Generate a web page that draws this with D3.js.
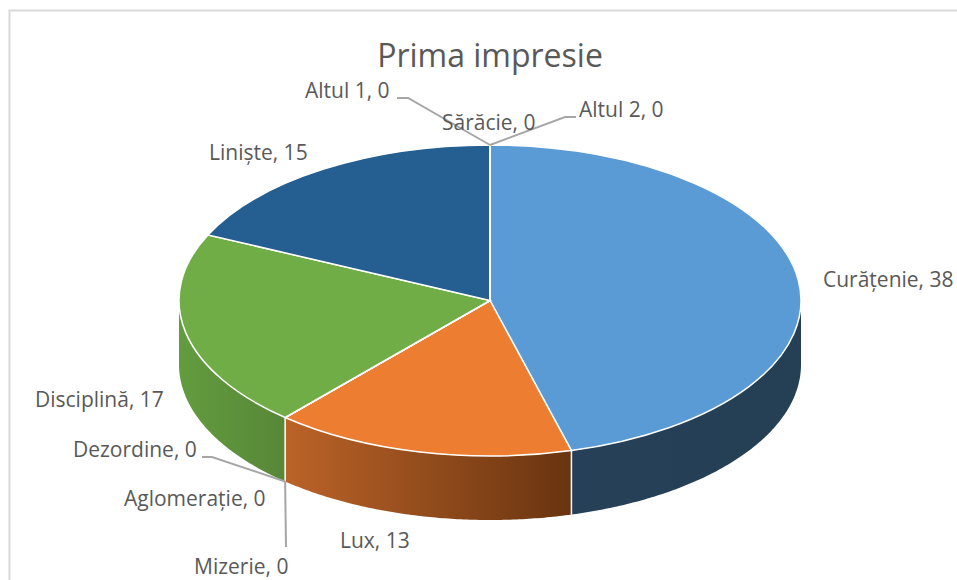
<!DOCTYPE html>
<html>
<head>
<meta charset="utf-8">
<script src="https://cdn.jsdelivr.net/npm/d3@7"></script>
<style>
  html, body { margin: 0; background: #fff; }
  svg { display: block; }
</style>
</head>
<body>
<svg></svg>
<script>
var categories = ['Curățenie', 'Lux', 'Aglomerație', 'Mizerie', 'Dezordine', 'Disciplină', 'Liniște', 'Sărăcie', 'Altul 1', 'Altul 2'];
var values = [38, 13, 0, 0, 0, 17, 15, 0, 0, 0];
var topColors = ['#5b9bd5', '#ed7d31', '#a5a5a5', '#ffc000', '#4472c4', '#70ad47', '#255e91', '#9e480e', '#636363', '#997300'];
var wallColors = [['#254058', '#254054'], ['#bb6328', '#693410'], null, null, null, ['#639c3f', '#578737'], null, null, null, null];

var svgWidth = 957, svgHeight = 580;
var cx = 490, cy = 300.5, rx = 311, ry = 155.5, depth = 64;

// label anchor points, in the same order as categories
var labelX = [823, 340, 124, 194, 73, 35, 209, 442, 305, 579];
var labelY = [287, 548, 506, 574, 457, 407, 160, 130, 98, 117];
// leader lines, only for the labels that have one
var leaders = {
    'Altul 1': { from: [397, 98], knee: [408, 98], wall: false },
    'Altul 2': { from: [576, 117], knee: [565, 117], wall: false },
    'Dezordine': { from: [202, 457], knee: [212, 457], wall: true },
    'Mizerie': { from: [286, 547], knee: [286, 547], wall: true }
};

var svg = d3.select('svg')
    .attr('width', svgWidth)
    .attr('height', svgHeight);

// chart area border
svg.append('path')
    .attr('d', 'M9.5,580V10.5H957')
    .attr('fill', 'none')
    .attr('stroke', '#d9d9d9')
    .attr('stroke-width', 2);

svg.append('text')
    .attr('x', 490)
    .attr('y', 67)
    .attr('text-anchor', 'middle')
    .attr('fill', '#595959')
    .attr('font-family', 'Open Sans')
    .attr('font-size', '32px')
    .text('Prima impresie');

var slices = d3.pie().sort(null).value(function(d) { return d; })(values);

function rimX(a) { return cx + rx * Math.sin(a); }
function rimY(a) { return cy - ry * Math.cos(a); }

var defs = svg.append('defs');
var wallLayer = svg.append('g');

slices.forEach(function(s, i) {
    var a0 = Math.max(s.startAngle, Math.PI / 2), a1 = Math.min(s.endAngle, Math.PI * 1.5);
    if (s.value === 0 || a1 <= a0 || !wallColors[i]) return;

    var grad = defs.append('linearGradient')
        .attr('id', 'wall' + i)
        .attr('gradientUnits', 'userSpaceOnUse')
        .attr('x1', d3.min([rimX(a0), rimX(a1)]))
        .attr('x2', d3.max([rimX(a0), rimX(a1)]))
        .attr('y1', 0)
        .attr('y2', 0);
    // gradients run left to right on the page
    grad.append('stop').attr('offset', 0).attr('stop-color', wallColors[i][0]);
    grad.append('stop').attr('offset', 1).attr('stop-color', wallColors[i][1]);

    var angles = d3.range(a0, a1, 0.01).concat([a1]);
    var top = angles.map(function(a) { return [rimX(a), rimY(a)]; });
    var bottom = angles.slice().reverse().map(function(a) { return [rimX(a), rimY(a) + depth]; });

    wallLayer.append('path')
        .attr('d', d3.line()(top.concat(bottom)) + 'Z')
        .attr('fill', 'url(#wall' + i + ')');
});

// white edges between the wall pieces
slices.forEach(function(s) {
    if (s.value === 0 || s.endAngle <= Math.PI / 2 || s.endAngle >= Math.PI * 1.5) return;
    wallLayer.append('line')
        .attr('x1', rimX(s.endAngle))
        .attr('x2', rimX(s.endAngle))
        .attr('y1', rimY(s.endAngle))
        .attr('y2', rimY(s.endAngle) + depth)
        .attr('stroke', '#fff')
        .attr('stroke-width', 1.5);
});

var arc = d3.arc().innerRadius(0).outerRadius(rx);

svg.append('g')
    .attr('transform', 'translate(' + cx + ',' + cy + ') scale(1,' + (ry / rx) + ')')
    .selectAll('path')
    .data(slices)
    .enter()
    .append('path')
    .attr('d', arc)
    .attr('fill', function(d, i) { return topColors[i]; })
    .attr('stroke', '#fff')
    .attr('stroke-width', 1.5)
    .attr('vector-effect', 'non-scaling-stroke');

// leader lines end on the slice's own angle
slices.forEach(function(s, i) {
    var l = leaders[categories[i]];
    if (!l) return;
    var a = s.startAngle;
    var end = [rimX(a), rimY(a) + (l.wall ? depth : 0)];
    svg.append('path')
        .attr('d', d3.line()([l.from, l.knee, end]))
        .attr('fill', 'none')
        .attr('stroke', '#a6a6a6')
        .attr('stroke-width', 2);
});

svg.selectAll('text.label')
    .data(categories)
    .enter()
    .append('text')
    .attr('class', 'label')
    .attr('x', function(d, i) { return labelX[i]; })
    .attr('y', function(d, i) { return labelY[i]; })
    .attr('fill', '#595959')
    .attr('font-family', 'Open Sans')
    .attr('font-size', '21px')
    .text(function(d, i) { return d + ', ' + values[i]; });
</script>
</body>
</html>
